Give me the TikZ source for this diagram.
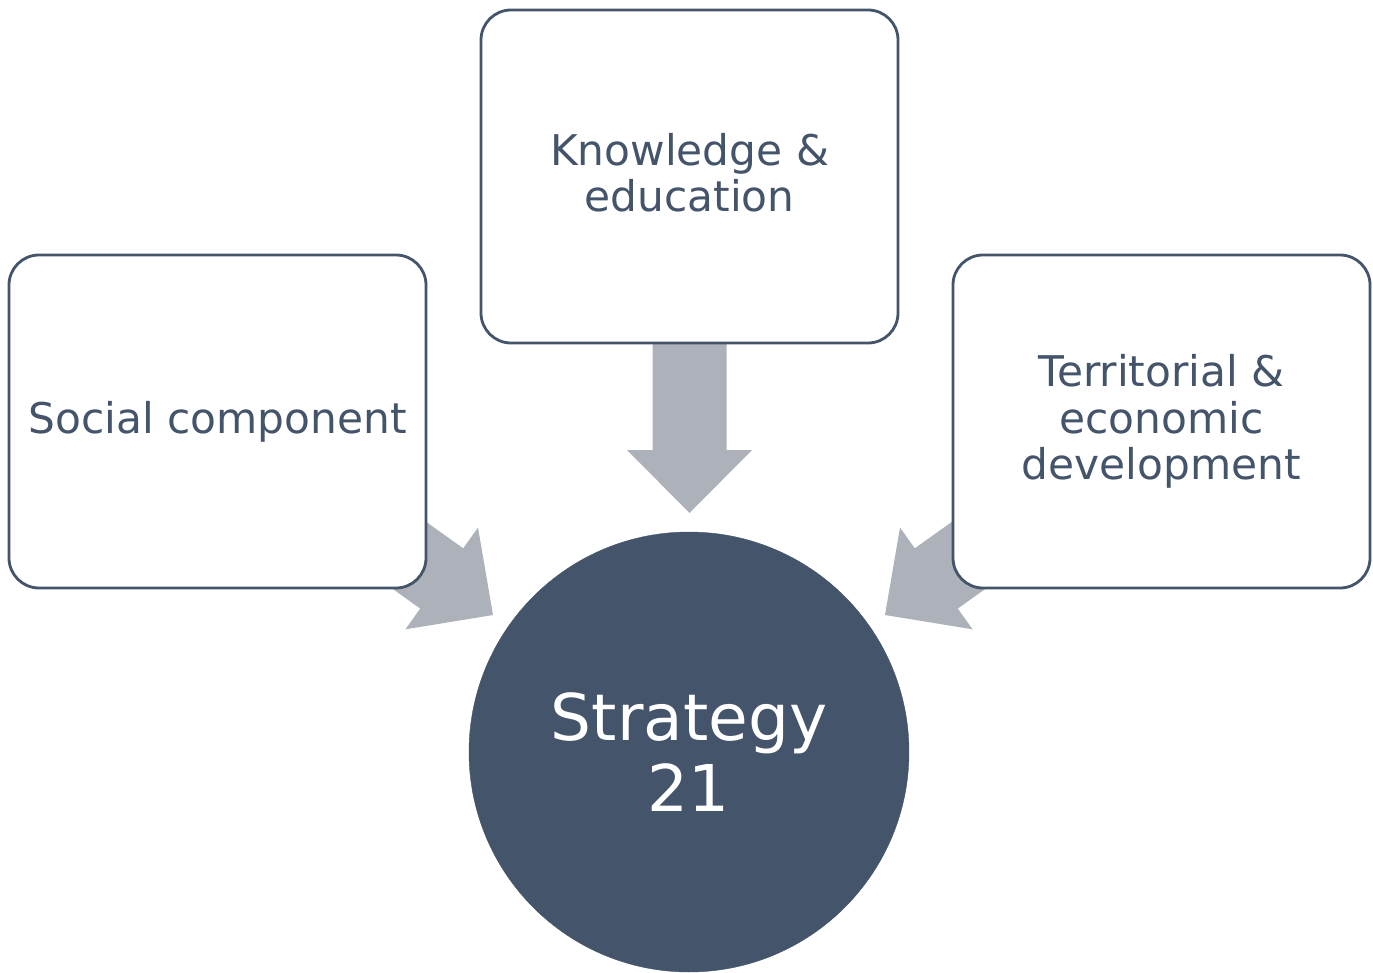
\documentclass[tikz,border=0pt]{standalone}
\usepackage{fontspec}
\setmainfont{DejaVu Sans}
\definecolor{darkslate}{HTML}{44546A}
\definecolor{arrowgray}{HTML}{ADB1B9}
\newcommand{\lowertext}[1]{\raisebox{-2.5pt}[\height][\depth]{\begin{tabular}{@{}c@{}}#1\end{tabular}}}
\begin{document}
\begin{tikzpicture}[x=1pt,y=1pt,
  box/.style={draw=darkslate, line width=2.8pt, fill=white, rounded corners=30pt,
    minimum width=417pt, minimum height=333pt, text=darkslate, align=center,
    font=\fontsize{42.3}{46.5}\selectfont, inner sep=0pt},
  hub/.style={circle, fill=darkslate, draw=darkslate, minimum size=440pt, inner sep=0pt,
    text=white, align=center, font=\fontsize{64.5}{71}\selectfont},
  fatarrow/.style={fill=arrowgray, draw=none}]
\useasboundingbox (0,0) rectangle (1373,-973);
% arrow shape (pointing along +x, length 170)
\def\arrowshape{(0,37) -- (107,37) -- (107,62.5) -- (170,0) -- (107,-62.5) -- (107,-37) -- (0,-37) -- cycle}
\coordinate (aTop) at (689.5,-343);
\coordinate (aLeft) at (354.6,-516.3);
\coordinate (aRight) at (1023.4,-516.3);
\fill[fatarrow, shift={(aTop)}, rotate=-90] \arrowshape;
\fill[fatarrow, shift={(aLeft)}, rotate=-35.5] \arrowshape;
\fill[fatarrow, shift={(aRight)}, rotate=215.5] \arrowshape;
\node[box] (know) at (689.5,-176.5) {\lowertext{Knowledge \&\\education}};
\node[box] (social) at (217.5,-421.5) {\lowertext{Social component}};
\node[box] (terr) at (1161.5,-421.5) {\lowertext{Territorial \&\\economic\\development}};
\node[hub] (strat) at (689,-752) {Strategy\\21};
\end{tikzpicture}
\end{document}
